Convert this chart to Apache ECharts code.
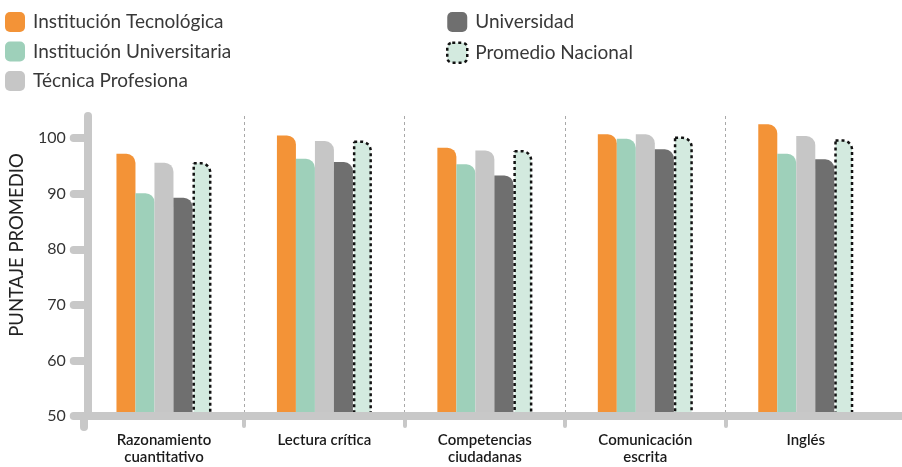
<!DOCTYPE html>
<html>
<head>
<meta charset="utf-8">
<script src="https://cdn.jsdelivr.net/npm/echarts@6/dist/echarts.min.js"></script>
<style>
html,body{margin:0;padding:0;background:#fff;}
#chart{width:902px;height:467px;}
</style>
</head>
<body>
<div id="chart"></div>
<script>
var categories = ['Razonamiento\ncuantitativo', 'Lectura crítica', 'Competencias\nciudadanas', 'Comunicación\nescrita', 'Inglés'];
var seriesNames = ['Institución Tecnológica', 'Institución Universitaria', 'Técnica Profesiona', 'Universidad', 'Promedio Nacional'];
var tecnologica = [97.2, 100.5, 98.3, 100.7, 102.5];
var universitaria = [90.1, 96.3, 95.3, 99.9, 97.2];
var tecnicaProfesional = [95.6, 99.5, 97.8, 100.7, 100.4];
var universidad = [89.3, 95.7, 93.3, 98.0, 96.2];
var promedioNacional = [95.7, 99.6, 97.9, 100.3, 99.8];
var yTicks = [50, 60, 70, 80, 90, 100];

var colors = ['#f39337', '#9ed0ba', '#c6c6c6', '#6f6f6f', '#d3eadf'];
var values = [tecnologica, universitaria, tecnicaProfesional, universidad, promedioNacional];
var axisGray = '#c8c8c8';
var fontFam = 'Lato, "Noto Sans", sans-serif';

var series = values.map(function (v, i) {
  var s = {
    name: seriesNames[i],
    type: 'bar',
    data: v,
    barWidth: 19,
    barGap: '0%',
    itemStyle: { color: colors[i], borderRadius: [0, 9, 0, 0] }
  };
  if (i === 4) {
    s.itemStyle.borderColor = '#111';
    s.itemStyle.borderWidth = 2.5;
    s.itemStyle.borderType = [3, 3];
  }
  return s;
});

function legendItem(i) {
  var it = { name: seriesNames[i], itemStyle: { color: colors[i], borderWidth: 0 } };
  if (i === 4) {
    it.itemStyle = { color: colors[4], borderColor: '#111', borderWidth: 2.5, borderType: [3, 3] };
  }
  return it;
}

var legendCommon = {
  orient: 'vertical',
  top: 12,
  padding: 0,
  itemWidth: 20,
  itemHeight: 20,
  itemGap: 9.5,
  icon: 'roundRect',
  textStyle: { fontFamily: fontFam, fontSize: 19, color: '#383838', padding: [0, 0, 0, 3] }
};

var chart = echarts.init(document.getElementById('chart'));
chart.setOption({
  animation: false,
  backgroundColor: '#fff',
  legend: [
    Object.assign({}, legendCommon, { left: 5, data: [0, 1, 2].map(legendItem) }),
    Object.assign({}, legendCommon, { left: 446, data: [3, 4].map(legendItem) })
  ],
  grid: { left: 80, right: 16, top: 116, bottom: 51, containLabel: false },
  xAxis: {
    type: 'category',
    data: categories,
    axisLine: { show: true, lineStyle: { color: axisGray, width: 8 } },
    axisTick: { show: true, length: 10, lineStyle: { color: axisGray, width: 4, cap: 'round' } },
    axisLabel: { margin: 16, fontFamily: fontFam, fontSize: 15, fontWeight: 600, color: '#1a1a1a', lineHeight: 17 },
    splitLine: { show: true, showMinLine: false, showMaxLine: false, lineStyle: { color: '#a8a8a8', type: [3, 3], width: 1 } },
    z: 5
  },
  yAxis: {
    type: 'value',
    min: 50,
    max: 104,
    interval: 10,
    offset: -4,
    name: 'PUNTAJE PROMEDIO',
    nameLocation: 'middle',
    nameRotate: 90,
    nameGap: 52,
    nameTextStyle: { fontFamily: fontFam, fontSize: 18.5, color: '#222', padding: [0, 0, 0, 42] },
    axisLine: { show: true, lineStyle: { color: axisGray, width: 8, cap: 'round' } },
    axisTick: { show: true, length: 14, customValues: yTicks, lineStyle: { color: axisGray, width: 8, cap: 'round' } },
    axisLabel: { margin: 22, customValues: yTicks, fontFamily: fontFam, fontSize: 16, color: '#333' },
    splitLine: { show: false },
    z: 6
  },
  graphic: [
    { type: 'line', shape: { x1: 84, y1: 416, x2: 84, y2: 427 }, style: { stroke: axisGray, lineWidth: 8, lineCap: 'round' }, z: 10 },
    { type: 'rect', shape: { x: 880, y: 419.5, width: 12, height: 12 }, style: { fill: '#fff' }, z: 10 },
    { type: 'rect', shape: { x: 880, y: 412, width: 22, height: 8 }, style: { fill: axisGray }, z: 11 }
  ],
  series: series
});
</script>
</body>
</html>
